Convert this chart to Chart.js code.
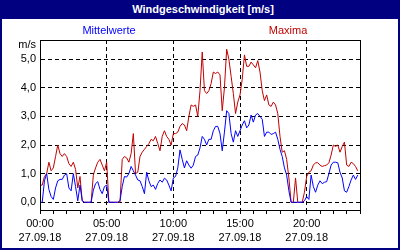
<!DOCTYPE html>
<html>
<head>
<meta charset="utf-8">
<script src="https://cdn.jsdelivr.net/npm/chart.js@4"></script>
<style>
    html, body { margin: 0; padding: 0; background: #fff; }
    #wrap { position: relative; width: 400px; height: 250px; overflow: hidden; font-family: "Liberation Sans", Arial, sans-serif; }
    #srChart { position: absolute; left: 0; top: 0; }
    #frame { position: absolute; left: 0; top: 0; width: 400px; height: 250px; box-sizing: border-box; border: 2px solid #000080; pointer-events: none; }
    #title { position: absolute; left: 0; top: 0; width: 400px; height: 19px; line-height: 19px; background: #000080; color: #fff; font-weight: bold; font-size: 11px; text-align: center; padding-left: 6px; box-sizing: border-box; }
    .legend { position: absolute; top: 23px; font-size: 11px; line-height: 15px; transform: translateX(-50%); white-space: nowrap; }
</style>
</head>
<body>
<div id="wrap">
    <canvas id="srChart" width="400" height="250"></canvas>
    <div id="title">Windgeschwindigkeit [m/s]</div>
    <span class="legend" style="left:109px;color:#0000ff">Mittelwerte</span>
    <span class="legend" style="left:288px;color:#c00000">Maxima</span>
    <div id="frame"></div>
</div>
<script>
// 10-minute values, 27.09.18 00:00 .. 23:50
const stepMinutes = 10;

const labelHours = [0, 5, 10, 15, 20];
const dateLabel = "27.09.18";
const yTicks = [0, 1, 2, 3, 4, 5];
const unitLabel = "m/s";

const mittelwerte = [
    0, 0, 0.75, 1.0, 0.45, 0.2, 0.1, 0.5, 0.75, 0.8, 0.8, 0.95,
    1.0, 0.5, 0.4, 1.0, 0.55, 0.05, 0.6, 0.05, 0, 0, 0, 0,
    0.42, 0.65, 0.72, 0.45, 0.3, 0.55, 0.6, 0, 0, 0, 0, 0,
    0.05, 0.55, 0.9, 0.88, 1.0, 1.25, 1.1, 0.95, 0.78, 0.75, 0.55, 0.3,
    1.05, 0.75, 0.55, 0.6, 0.45, 0.66, 0.78, 0.7, 0.84, 0.78, 0.6, 0.4,
    0.85, 0.9, 1.2, 1.83, 1.5, 1.2, 1.45, 1.3, 1.19, 1.3, 1.6, 1.65,
    1.9, 2.3, 2.2, 2.0, 2.2, 2.2, 2.5, 2.65, 2.65, 2.4, 1.8, 2.45,
    3.2, 3.1, 2.4, 2.1, 2.5, 2.3, 2.5, 2.7, 2.85, 2.6, 2.7, 3.05,
    2.8, 3.05, 3.1, 3.0, 2.9, 2.3, 2.45, 2.45, 2.37, 2.4, 2.45, 2.2,
    1.85, 1.6, 1.2, 0.95, 0.4, 0, 0, 0, 0, 0, 0, 0.05,
    0.2, 0.1, 0.95, 0.55, 0.35, 0.6, 0.75, 0.65, 0.7, 0.72, 1.0, 1.3,
    1.4, 1.4, 1.38, 1.05, 0.85, 0.4, 0.35, 0.55, 0.78, 0.95, 0.8, 0.95
];

const maxima = [
    0.6, 0.6, 0.9, 1.0, 1.4, 1.1, 1.2, 1.6, 2.0, 1.7, 1.6, 1.7,
    1.6, 1.35, 1.25, 1.4, 1.15, 0.5, 0.9, 0.05, 0, 0, 0, 0,
    0.95, 1.2, 1.4, 1.5, 1.3, 1.1, 1.4, 0, 0, 0, 0, 0,
    0, 1.5, 1.6, 1.55, 1.4, 1.7, 2.4, 1.0, 1.05, 1.6, 1.75, 1.85,
    1.95, 2.05, 2.2, 2.15, 2.3, 2.05, 1.8, 2.3, 2.5, 2.3, 2.2, 2.0,
    2.4, 2.4, 2.45, 2.65, 2.75, 2.7, 2.5, 3.0, 3.4, 3.35, 3.4, 3.0,
    3.9, 5.25, 3.9, 3.8, 3.9, 4.15, 4.55, 4.5, 4.55, 4.45, 3.2, 4.0,
    5.35, 5.0, 4.4, 3.8, 3.1, 3.5, 3.75, 4.3, 5.15, 4.75, 4.75, 4.9,
    4.8, 4.7, 4.95, 4.55, 3.9, 3.55, 3.75, 3.4, 3.35, 3.5, 3.4, 3.1,
    2.3, 1.75, 1.8, 1.5, 0.85, 0, 0, 0.85, 0, 0, 0, 0.35,
    0.9, 1.05, 1.1, 1.3, 1.38, 1.38, 1.3, 1.25, 1.28, 1.3, 1.38, 1.65,
    2.0, 1.95, 2.0, 1.75, 1.95, 2.1, 1.3, 1.25, 1.4, 1.35, 1.25, 1.1
];

const font = { family: "Liberation Sans", size: 11 };

function toPoints(values) {
    return values.map((v, i) => ({ x: i * stepMinutes / 60, y: v }));
}

// solid black frame round the plot area
const framePlugin = {
    id: "frame",
    afterDatasetsDraw(chart) {
        const { ctx, chartArea: a } = chart;
        ctx.save();
        ctx.strokeStyle = "#000";
        ctx.lineWidth = 1;
        ctx.setLineDash([]);
        ctx.strokeRect(a.left + 0.5, a.top + 0.5, a.right - a.left, a.bottom - a.top);
        ctx.restore();
    }
};

const ctx =
    document
        .getElementById("srChart")
        .getContext("2d");

new Chart(ctx, {

    type: "line",

    data: {
        datasets: [
            {
                label: "Mittelwerte",
                data: toPoints(mittelwerte),
                borderColor: "#0000ff",
                borderWidth: 1,
                pointRadius: 0,
                tension: 0
            },
            {
                label: "Maxima",
                data: toPoints(maxima),
                borderColor: "#c00000",
                borderWidth: 1,
                pointRadius: 0,
                tension: 0
            }
        ]
    },

    options: {
        responsive: false,
        animation: false,
        events: [],
        layout: {
            padding: { top: 40, right: 40, left: 0, bottom: 0 }
        },
        plugins: {
            legend: { display: false },
            tooltip: { enabled: false }
        },
        scales: {
            x: {
                type: "linear",
                min: 0,
                max: 24,
                afterFit: s => { s.height = 40; },
                ticks: {
                    stepSize: 1,
                    autoSkip: false,
                    maxRotation: 0,
                    padding: 2,
                    color: "#000",
                    font: { family: font.family, size: font.size, lineHeight: 1.36 },
                    callback: v => labelHours.includes(v)
                        ? [String(v).padStart(2, "0") + ":00", dateLabel]
                        : ""
                },
                grid: {
                    color: c => c.tick && labelHours.includes(c.tick.value) ? "#000" : "rgba(0,0,0,0)",
                    tickColor: "#000",
                    tickLength: 4,
                    lineWidth: 1
                },
                border: { color: "#000", dash: [4, 3] }
            },
            y: {
                min: -0.27,
                max: 5.67,
                afterFit: s => { s.width = 40; },
                afterBuildTicks: s => {
                    s.ticks = yTicks.map(v => ({ value: v })).concat([{ value: 5.5 }]);
                },
                ticks: {
                    padding: 4,
                    color: "#000",
                    font: font,
                    callback: v => v === 5.5 ? unitLabel : v.toFixed(1).replace(".", ",")
                },
                grid: {
                    drawTicks: false,
                    color: c => c.tick && c.tick.value === 5.5 ? "rgba(0,0,0,0)" : "#000",
                    lineWidth: 1
                },
                border: { color: "#000", dash: [4, 3] }
            }
        }
    },

    plugins: [framePlugin]

});
</script>
</body>
</html>
